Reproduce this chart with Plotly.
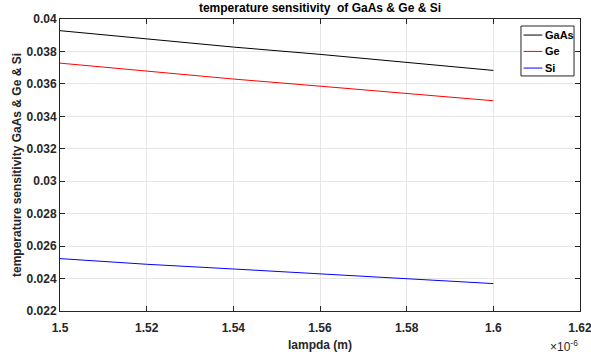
import plotly.graph_objects as go

# wavelength in units of 1e-6 m
lampda = [1.50, 1.52, 1.54, 1.56, 1.58, 1.60]
gaas = [0.03928, 0.03877, 0.03827, 0.03782, 0.03733, 0.03683]
ge = [0.03728, 0.03679, 0.03630, 0.03586, 0.03539, 0.03496]
si = [0.02523, 0.02488, 0.02459, 0.02430, 0.02397, 0.02369]

series_names = ["GaAs", "Ge", "Si"]
series_colors = ["black", "red", "blue"]

x_ticks = [1.5, 1.52, 1.54, 1.56, 1.58, 1.6, 1.62]
x_ticktext = ["1.5", "1.52", "1.54", "1.56", "1.58", "1.6", "1.62"]
y_ticks = [0.022, 0.024, 0.026, 0.028, 0.03, 0.032, 0.034, 0.036, 0.038, 0.04]
y_ticktext = ["0.022", "0.024", "0.026", "0.028", "0.03", "0.032", "0.034", "0.036", "0.038", "0.04"]

FONT = "Liberation Sans, Arial, sans-serif"
AX = "#262626"

fig = go.Figure()
for name, vals, col in zip(series_names, [gaas, ge, si], series_colors):
    fig.add_trace(go.Scatter(x=lampda, y=vals, mode="lines", name=name,
                             line=dict(color=col, width=1), showlegend=False))

axis_common = dict(
    showline=True, linecolor=AX, linewidth=1, mirror="ticks",
    ticks="inside", ticklen=5, tickcolor=AX, automargin=False,
    ticklabeloverflow="allow",
    showgrid=True, gridcolor="#e6e6e6", gridwidth=1, zeroline=False,
    tickfont=dict(family=FONT, size=12, color=AX, weight="bold"),
)

fig.update_layout(
    width=591, height=360,
    margin=dict(l=60, r=11, t=19, b=49, autoexpand=False),
    paper_bgcolor="white", plot_bgcolor="white",
    title=dict(text="temperature sensitivity  of GaAs & Ge & Si",
               x=0.5, xanchor="center", xref="paper", y=1, yref="container",
               yanchor="top", pad=dict(t=4),
               font=dict(family=FONT, size=12, color="black", weight="bold")),
    xaxis=dict(range=[1.5, 1.6200001], tickvals=x_ticks, ticktext=x_ticktext,
               ticklabelstandoff=6,
               title=dict(text="lampda (m)", standoff=6,
                          font=dict(family=FONT, size=12, color=AX, weight="bold")),
               **axis_common),
    yaxis=dict(range=[0.022, 0.0400001], tickvals=y_ticks, ticktext=y_ticktext,
               title=dict(text="temperature sensitivity GaAs & Ge & Si", standoff=2,
                          font=dict(family=FONT, size=12, color=AX, weight="bold")),
               **axis_common),
    showlegend=False,
)

# legend box (MATLAB style)
fig.add_shape(type="rect", xref="paper", yref="paper",
              x0=0.8865, x1=0.9885, y0=0.805, y1=0.976,
              line=dict(color=AX, width=1), fillcolor="white", layer="above")
row_y = [0.945, 0.889, 0.832]
for name, col, yy in zip(series_names, series_colors, row_y):
    fig.add_shape(type="line", xref="paper", yref="paper",
                  x0=0.8915, x1=0.9275, y0=yy, y1=yy,
                  line=dict(color=col, width=1), layer="above")
    fig.add_annotation(text=name, xref="paper", yref="paper",
                       x=0.9295, y=yy, xanchor="left", yanchor="middle",
                       showarrow=False,
                       font=dict(family=FONT, size=11, color="black", weight="bold"))

fig.add_annotation(text="×10<sup>-6</sup>", xref="paper", yref="paper",
                   x=1.0, y=-0.085, xanchor="right", yanchor="top", showarrow=False,
                   font=dict(family=FONT, size=12, color=AX))

fig.write_html("out.html", config={"displayModeBar": False},
               post_script="document.body.style.margin='0px';")
